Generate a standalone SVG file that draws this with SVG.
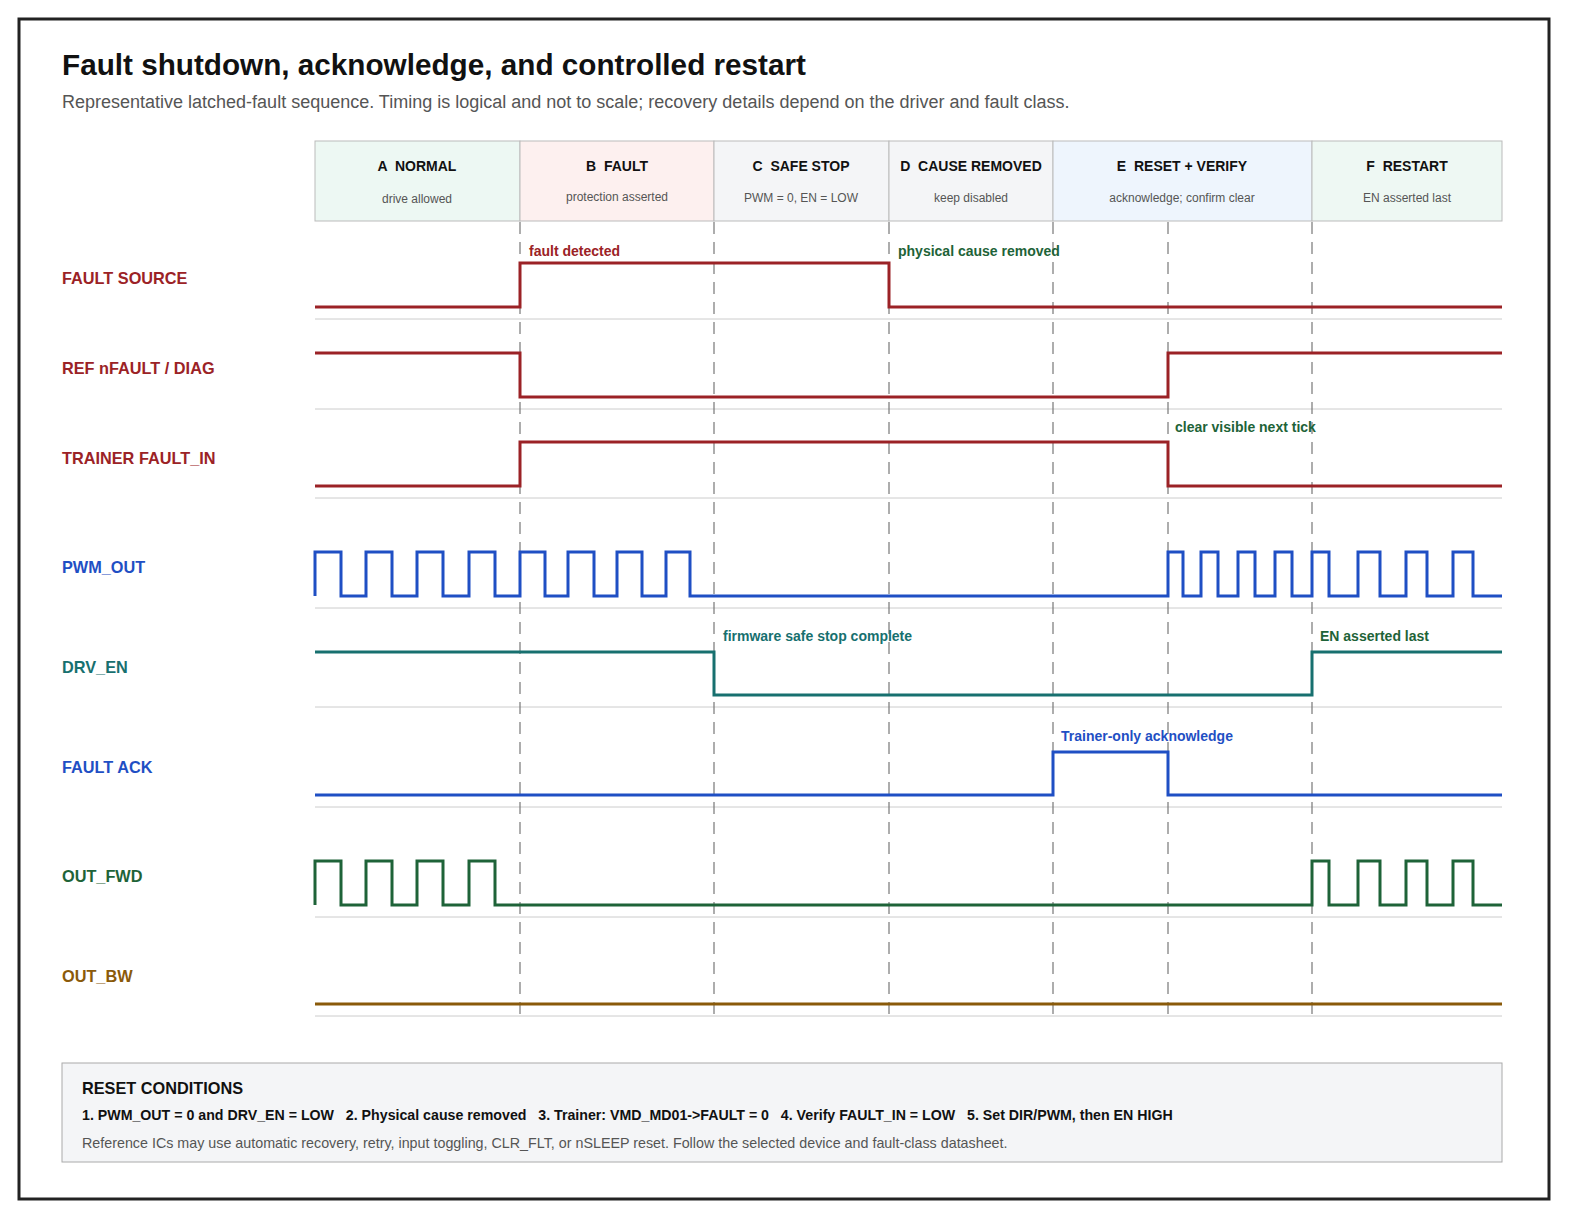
<svg xmlns="http://www.w3.org/2000/svg" width="1573" height="1223" viewBox="0 0 1573 1223">
<style>
text{font-family:"Liberation Sans",Arial,sans-serif}
.ph{font-size:14px;font-weight:bold;fill:#111;text-anchor:middle;white-space:pre}
.ps{font-size:12px;fill:#555;text-anchor:middle}
.lbl{font-size:16.3px;font-weight:bold}
.ann{font-size:14px;font-weight:bold}
.sep{stroke:#ccc;stroke-width:1}
.dash{stroke:#777;stroke-width:1.2;stroke-dasharray:12,8}
.w{fill:none;stroke-width:3}
.red{stroke:#9b2226}.blue{stroke:#1f4fc4}.teal{stroke:#17706f}.green{stroke:#1e6338}.brown{stroke:#8a5a0a}
</style>
<rect x="19" y="19" width="1530" height="1180" fill="#fff" stroke="#222" stroke-width="3"/>
<text x="62" y="75" font-size="29.7" font-weight="bold" fill="#111">Fault shutdown, acknowledge, and controlled restart</text>
<text x="62" y="108" font-size="18" fill="#555">Representative latched-fault sequence. Timing is logical and not to scale; recovery details depend on the driver and fault class.</text>
<g id="phases" stroke="#bbb">
<g id="phA"><rect x="315" y="141" width="205" height="80" fill="#edf8f3"/><text class="ph" x="417" y="171" stroke="none" xml:space="preserve">A  NORMAL</text><text class="ps" x="417" y="203" stroke="none">drive allowed</text></g>
<g id="phB"><rect x="520" y="141" width="194" height="80" fill="#fdf0ef"/><text class="ph" x="617" y="171" stroke="none" xml:space="preserve">B  FAULT</text><text class="ps" x="617" y="201" stroke="none">protection asserted</text></g>
<g id="phC"><rect x="714" y="141" width="175" height="80" fill="#f4f5f7"/><text class="ph" x="801" y="171" stroke="none" xml:space="preserve">C  SAFE STOP</text><text class="ps" x="801" y="202" stroke="none">PWM = 0, EN = LOW</text></g>
<g id="phD"><rect x="889" y="141" width="164" height="80" fill="#f4f5f7"/><text class="ph" x="971" y="171" stroke="none" xml:space="preserve">D  CAUSE REMOVED</text><text class="ps" x="971" y="202" stroke="none">keep disabled</text></g>
<g id="phE"><rect x="1053" y="141" width="259" height="80" fill="#eef5fd"/><text class="ph" x="1182" y="171" stroke="none" xml:space="preserve">E  RESET + VERIFY</text><text class="ps" x="1182" y="202" stroke="none">acknowledge; confirm clear</text></g>
<g id="phF"><rect x="1312" y="141" width="190" height="80" fill="#eef8f3"/><text class="ph" x="1407" y="171" stroke="none" xml:space="preserve">F  RESTART</text><text class="ps" x="1407" y="202" stroke="none">EN asserted last</text></g>
</g>
<g id="grid">
<line class="sep" x1="315" y1="319" x2="1502" y2="319"/><line class="sep" x1="315" y1="409" x2="1502" y2="409"/>
<line class="sep" x1="315" y1="498" x2="1502" y2="498"/><line class="sep" x1="315" y1="608" x2="1502" y2="608"/>
<line class="sep" x1="315" y1="707" x2="1502" y2="707"/><line class="sep" x1="315" y1="807" x2="1502" y2="807"/>
<line class="sep" x1="315" y1="917" x2="1502" y2="917"/><line class="sep" x1="315" y1="1016" x2="1502" y2="1016"/>
<line class="dash" x1="520" y1="222" x2="520" y2="1022"/><line class="dash" x1="714" y1="222" x2="714" y2="1022"/>
<line class="dash" x1="889" y1="222" x2="889" y2="1022"/><line class="dash" x1="1053" y1="222" x2="1053" y2="1022"/>
<line class="dash" x1="1168" y1="222" x2="1168" y2="1022"/><line class="dash" x1="1312" y1="222" x2="1312" y2="1022"/>
</g>
<g id="labels">
<text class="lbl" x="62" y="284" fill="#9b2226">FAULT SOURCE</text>
<text class="lbl" x="62" y="374" fill="#9b2226">REF nFAULT / DIAG</text>
<text class="lbl" x="62" y="464" fill="#9b2226">TRAINER FAULT_IN</text>
<text class="lbl" x="62" y="573" fill="#1f4fc4">PWM_OUT</text>
<text class="lbl" x="62" y="673" fill="#17706f">DRV_EN</text>
<text class="lbl" x="62" y="773" fill="#1f4fc4">FAULT ACK</text>
<text class="lbl" x="62" y="882" fill="#1e6338">OUT_FWD</text>
<text class="lbl" x="62" y="982" fill="#8a5a0a">OUT_BW</text>
</g>
<g id="connectors">
<path class="w red" d="M315 307H520V263H889V307H1502"/>
<path class="w red" d="M315 353H520V397H1168V353H1502"/>
<path class="w red" d="M315 486H520V442H1168V486H1502"/>
<path class="w blue" d="M315 596V552H341V596H366V552H392V596H417V552H443V596H469V552H495V596H520V552H545V596H568V552H594V596H617V552H642V596H666V552H690V596H1168V552H1183V596H1201V552H1218V596H1238V552H1255V596H1275V552H1292V596H1312V552H1329V596H1358V552H1380V596H1406V552H1427V596H1453V552H1473V596H1502"/>
<path class="w teal" d="M315 652H714V695H1312V652H1502"/>
<path class="w blue" d="M315 795H1053V752H1168V795H1502"/>
<path class="w green" d="M315 905V861H341V905H366V861H392V905H417V861H443V905H469V861H495V905H1312V861H1329V905H1358V861H1380V905H1406V861H1427V905H1453V861H1473V905H1502"/>
<path class="w brown" d="M315 1004H1502"/>
</g>
<g id="annotations">
<text class="ann" x="529" y="256" fill="#9b2226">fault detected</text>
<text class="ann" x="898" y="256" fill="#1e6338">physical cause removed</text>
<text class="ann" x="1175" y="432" fill="#1e6338">clear visible next tick</text>
<text class="ann" x="723" y="641" fill="#17706f">firmware safe stop complete</text>
<text class="ann" x="1320" y="641" fill="#1e6338">EN asserted last</text>
<text class="ann" x="1061" y="741" fill="#1f4fc4">Trainer-only acknowledge</text>
</g>
<g id="reset">
<rect x="62" y="1063" width="1440" height="99" fill="#f4f5f7" stroke="#aaa"/>
<text x="82" y="1094" font-size="16.3" font-weight="bold" fill="#111">RESET CONDITIONS</text>
<text x="82" y="1120" font-size="14.2" font-weight="bold" fill="#111" xml:space="preserve">1. PWM_OUT = 0 and DRV_EN = LOW   2. Physical cause removed   3. Trainer: VMD_MD01-&gt;FAULT = 0   4. Verify FAULT_IN = LOW   5. Set DIR/PWM, then EN HIGH</text>
<text x="82" y="1148" font-size="14.3" fill="#555">Reference ICs may use automatic recovery, retry, input toggling, CLR_FLT, or nSLEEP reset. Follow the selected device and fault-class datasheet.</text>
</g>
</svg>
